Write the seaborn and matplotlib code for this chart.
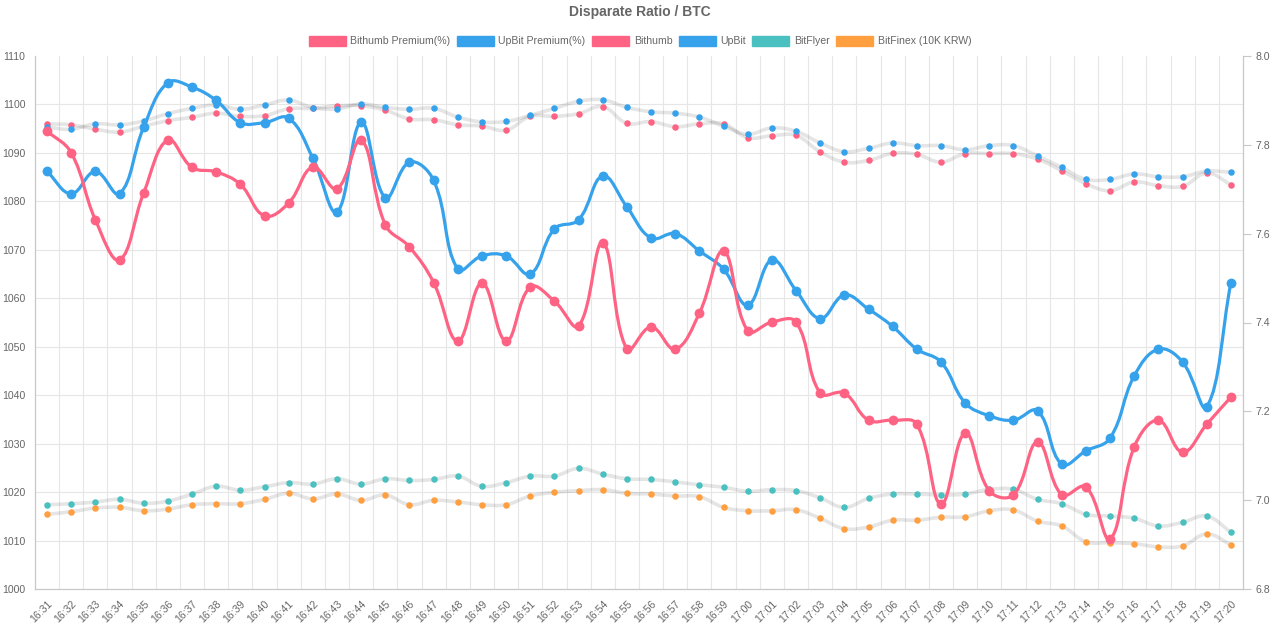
import numpy as np
import matplotlib
matplotlib.use('Agg')
import matplotlib.pyplot as plt
from matplotlib.path import Path
from matplotlib.patches import PathPatch, Patch
import seaborn as sns

sns.set_style('white')
plt.rcParams['font.family'] = ['Liberation Sans', 'DejaVu Sans']

times = ['16:31', '16:32', '16:33', '16:34', '16:35', '16:36', '16:37', '16:38', '16:39', '16:40',
         '16:41', '16:42', '16:43', '16:44', '16:45', '16:46', '16:47', '16:48', '16:49', '16:50',
         '16:51', '16:52', '16:53', '16:54', '16:55', '16:56', '16:57', '16:58', '16:59', '17:00',
         '17:01', '17:02', '17:03', '17:04', '17:05', '17:06', '17:07', '17:08', '17:09', '17:10',
         '17:11', '17:12', '17:13', '17:14', '17:15', '17:16', '17:17', '17:18', '17:19', '17:20']

# premium (%) - right axis
bithumb_premium = [7.831, 7.782, 7.631, 7.541, 7.692, 7.811, 7.749, 7.739, 7.711, 7.640,
                   7.669, 7.750, 7.701, 7.811, 7.620, 7.570, 7.490, 7.358, 7.489, 7.358,
                   7.480, 7.448, 7.392, 7.580, 7.340, 7.390, 7.340, 7.421, 7.561, 7.381,
                   7.401, 7.401, 7.241, 7.241, 7.180, 7.180, 7.171, 6.991, 7.151, 7.021,
                   7.012, 7.131, 7.012, 7.030, 6.913, 7.120, 7.180, 7.108, 7.171, 7.232]
upbit_premium = [7.740, 7.690, 7.740, 7.690, 7.840, 7.940, 7.930, 7.900, 7.850, 7.850,
                 7.860, 7.770, 7.649, 7.851, 7.681, 7.761, 7.720, 7.520, 7.550, 7.550,
                 7.509, 7.611, 7.631, 7.730, 7.660, 7.590, 7.600, 7.561, 7.520, 7.439,
                 7.541, 7.472, 7.409, 7.462, 7.430, 7.391, 7.340, 7.311, 7.219, 7.190,
                 7.180, 7.201, 7.081, 7.111, 7.140, 7.280, 7.340, 7.311, 7.210, 7.490]

# prices (10K KRW) - left axis
bithumb = [1096.0, 1095.8, 1094.9, 1094.3, 1095.5, 1096.65, 1097.35, 1098.2, 1097.55, 1097.7,
           1099.1, 1099.2, 1099.7, 1099.75, 1098.8, 1097.0, 1096.85, 1095.8, 1095.55, 1094.7,
           1097.55, 1097.55, 1098.1, 1099.55, 1096.1, 1096.45, 1095.4, 1096.0, 1096.0, 1093.15,
           1093.55, 1093.6, 1090.2, 1088.1, 1088.45, 1089.9, 1089.7, 1088.1, 1089.85, 1089.85,
           1089.85, 1088.7, 1086.3, 1083.65, 1082.2, 1084.0, 1083.25, 1083.1, 1085.85, 1083.45]
upbit = [1095.3, 1094.9, 1096.0, 1095.8, 1096.6, 1098.1, 1099.2, 1099.9, 1099.0, 1099.9,
         1100.9, 1099.35, 1099.1, 1100.1, 1099.4, 1099.0, 1099.2, 1097.4, 1096.4, 1096.5,
         1097.75, 1099.2, 1100.65, 1100.95, 1099.4, 1098.5, 1098.2, 1097.4, 1095.5, 1093.85,
         1095.15, 1094.45, 1092.05, 1090.25, 1090.95, 1092.05, 1091.5, 1091.5, 1090.65, 1091.5,
         1091.5, 1089.35, 1087.0, 1084.55, 1084.55, 1085.65, 1085.1, 1085.1, 1086.25, 1086.0]
bitflyer = [1017.4, 1017.6, 1017.95, 1018.5, 1017.7, 1018.15, 1019.6, 1021.2, 1020.4, 1021.1,
            1021.95, 1021.65, 1022.75, 1021.65, 1022.75, 1022.4, 1022.6, 1023.3, 1021.2, 1021.95,
            1023.3, 1023.3, 1024.9, 1023.7, 1022.75, 1022.6, 1022.1, 1021.5, 1021.0, 1020.15,
            1020.5, 1020.3, 1018.8, 1016.85, 1018.7, 1019.6, 1019.6, 1019.4, 1019.6, 1020.55,
            1020.55, 1018.5, 1017.6, 1015.4, 1015.05, 1014.6, 1013.0, 1013.75, 1015.05, 1011.7]
bitfinex = [1015.4, 1015.95, 1016.7, 1016.85, 1016.15, 1016.5, 1017.4, 1017.6, 1017.6, 1018.5,
            1019.75, 1018.6, 1019.6, 1018.3, 1019.4, 1017.4, 1018.3, 1017.95, 1017.4, 1017.4,
            1019.2, 1019.95, 1020.3, 1020.5, 1019.75, 1019.6, 1019.2, 1019.05, 1016.85, 1016.15,
            1016.15, 1016.35, 1014.6, 1012.45, 1012.8, 1014.2, 1014.2, 1014.8, 1014.9, 1016.15,
            1016.3, 1014.0, 1013.0, 1009.75, 1009.55, 1009.35, 1008.7, 1008.9, 1011.35, 1009.15]

PINK = '#FF6384'
BLUE = '#36A2EB'
TEAL = '#4BC0C0'
ORANGE = '#FF9F40'
TXT = '#666666'
GRID = '#e6e6e6'
AXLINE = '#c8c8c8'
TRAIL = (0, 0, 0, 0.1)


def smooth_path(ax, ys, tension=0.4):
    # chart.js style bezier through the points, built in display space
    xs = np.arange(len(ys))
    pts = ax.transData.transform(np.column_stack([xs, ys]))
    n = len(pts)
    cprev = pts.copy()
    cnext = pts.copy()
    for i in range(n):
        p0 = pts[max(i - 1, 0)]
        p1 = pts[i]
        p2 = pts[min(i + 1, n - 1)]
        d01 = np.hypot(*(p1 - p0))
        d12 = np.hypot(*(p2 - p1))
        tot = d01 + d12
        s01 = d01 / tot if tot else 0
        s12 = d12 / tot if tot else 0
        cprev[i] = p1 - tension * s01 * (p2 - p0)
        cnext[i] = p1 + tension * s12 * (p2 - p0)
    verts = [pts[0]]
    codes = [Path.MOVETO]
    for i in range(1, n):
        verts += [cnext[i - 1], cprev[i], pts[i]]
        codes += [Path.CURVE4] * 3
    verts = ax.transData.inverted().transform(np.array(verts))
    return Path(verts, codes)


fig = plt.figure(figsize=(12.8, 6.31), dpi=100)
ax = fig.add_axes([35 / 1280, 42 / 631, 1208 / 1280, 533 / 631])
ax2 = ax.twinx()

ax.set_xlim(-0.5, len(times) - 0.5)
ax.set_ylim(1000, 1110)
ax2.set_ylim(6.8, 8.0)

idx = np.arange(len(times))

# price series: grey line + small coloured dots
for vals, col in [(bithumb, PINK), (upbit, BLUE), (bitflyer, TEAL), (bitfinex, ORANGE)]:
    ax.add_patch(PathPatch(smooth_path(ax, vals), facecolor='none', edgecolor=TRAIL,
                           lw=2.6, capstyle='round', joinstyle='round', zorder=2))
    sns.scatterplot(x=idx, y=vals, ax=ax, color=col, s=22, linewidth=0, zorder=3, legend=False)

# premium series on top
for vals, col in [(upbit_premium, BLUE), (bithumb_premium, PINK)]:
    ax2.add_patch(PathPatch(smooth_path(ax2, vals), facecolor='none', edgecolor=col,
                            lw=2.3, capstyle='round', joinstyle='round', zorder=4))
    sns.scatterplot(x=idx, y=vals, ax=ax2, color=col, s=50, linewidth=0, zorder=5, legend=False)

# x axis
ax.set_xticks(idx)
ax.set_xticklabels(times, rotation=45, ha='right', rotation_mode='anchor', fontsize=7.6, color=TXT)
ax.set_xticks(np.arange(-0.5, len(times), 1), minor=True)
ax.tick_params(axis='x', which='major', length=0, pad=7)
ax.tick_params(axis='x', which='minor', length=6, color=GRID, width=0.8)
ax.grid(True, which='minor', axis='x', color=GRID, lw=0.8, alpha=1)
ax.grid(False, which='major', axis='x')

# left axis
ax.set_yticks(np.arange(1000, 1111, 10))
ax.tick_params(axis='y', length=0, pad=7, labelsize=7.6, labelcolor=TXT)
ax.grid(True, which='major', axis='y', color=GRID, lw=0.8, alpha=1)
ax.get_ygridlines()[-1].set_visible(False)

# right axis
ax2.set_yticks(np.round(np.arange(6.8, 8.01, 0.2), 1))
ax2.set_yticklabels(['6.8', '7.0', '7.2', '7.4', '7.6', '7.8', '8.0'])
ax2.tick_params(axis='y', length=6, width=0.8, color=AXLINE, pad=3, labelsize=7.6, labelcolor=TXT)
ax2.grid(False)

for a in (ax, ax2):
    a.spines['top'].set_visible(False)
    for s in ('left', 'right', 'bottom'):
        a.spines[s].set_color(AXLINE)
        a.spines[s].set_linewidth(0.8)
ax.set_xlabel('')
ax.set_ylabel('')
ax2.set_ylabel('')

fig.text(0.5, 1 - 12 / 631, 'Disparate Ratio / BTC', ha='center', va='center',
         fontsize=10, fontweight='bold', color=TXT)

labels = ['Bithumb Premium(%)', 'UpBit Premium(%)', 'Bithumb', 'UpBit', 'BitFlyer', 'BitFinex (10K KRW)']
colors = [PINK, BLUE, PINK, BLUE, TEAL, ORANGE]
handles = [Patch(facecolor=c, edgecolor=c) for c in colors]
leg = fig.legend(handles, labels, loc='center', bbox_to_anchor=(0.5, 1 - 41 / 631), ncol=6,
                 frameon=False, fontsize=7.6, handlelength=3.5, handleheight=1.1,
                 handletextpad=0.45, columnspacing=0.6, borderpad=0)
for t in leg.get_texts():
    t.set_color(TXT)

fig.savefig('out.png', dpi=100, facecolor='white')
